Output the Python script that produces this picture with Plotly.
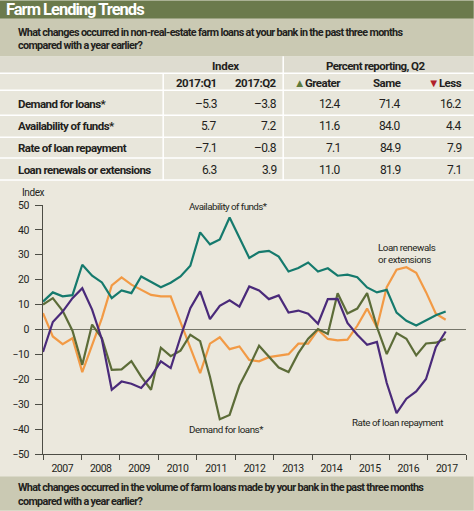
import plotly.graph_objects as go

# ---------------- data ----------------
quarters = [f"{y}:Q{q}" for y in range(2007, 2018) for q in range(1, 5)][:42]
years = list(range(2007, 2018))

availability = [11.2, 14.9, 13.3, 13.8, 26.0, 21.6, 18.9, 12.6, 15.7, 14.6, 21.3, 19.0,
                17.0, 18.8, 21.3, 25.6, 39.0, 34.2, 36.2, 45.0, 36.7, 28.7, 31.1, 31.6,
                29.3, 23.3, 24.7, 26.9, 23.3, 24.6, 21.6, 22.0, 21.0, 16.9, 14.9, 15.9,
                6.8, 3.5, 1.6, 3.5, 5.7, 7.2]
renewals = [6.6, -2.8, -5.9, -3.5, -17.1, -6.5, 4.6, 17.7, 20.9, 18.0, 15.9, 13.9,
            13.3, 13.3, 3.0, -7.3, -17.5, -5.7, -3.1, -7.9, -6.8, -12.2, -12.8, -11.1,
            -10.6, -9.9, -5.7, -5.7, -0.1, -3.8, -4.4, -4.1, 1.5, 8.4, 0.8, 17.0,
            24.0, 25.0, 22.8, 15.0, 6.3, 3.9]
repayment = [-9.0, 3.0, 7.2, 12.6, 16.6, 8.0, -4.0, -24.2, -20.9, -21.8, -23.5, -18.9,
             -12.8, -15.5, -3.0, 8.6, 15.3, 4.2, 9.5, 11.7, 9.2, 17.3, 15.7, 12.2,
             13.7, 6.8, 7.6, 6.3, 2.3, 12.2, 12.3, 2.6, -2.1, -6.1, -5.0, -21.5,
             -33.6, -27.8, -24.9, -19.9, -7.1, -0.8]
demand = [10.0, 12.6, 7.5, -0.5, -14.2, 2.0, -3.5, -16.2, -16.0, -12.7, -18.9, -24.2,
          -7.3, -10.7, -8.5, -2.1, -4.7, -19.0, -36.0, -34.3, -22.5, -14.9, -6.5, -10.8,
          -15.3, -17.1, -9.5, -3.7, 0.2, -1.8, 14.6, 6.4, 8.4, 14.6, 1.0, -9.9,
          -1.4, -3.7, -10.4, -5.6, -5.3, -3.8]

table_rows = ["Demand for loans*", "Availability of funds*", "Rate of loan repayment",
              "Loan renewals or extensions"]
index_q1 = ["–5.3", "5.7", "–7.1", "6.3"]
index_q2 = ["–3.8", "7.2", "–0.8", "3.9"]
pct_greater = ["12.4", "11.6", "7.1", "11.0"]
pct_same = ["71.4", "84.0", "84.9", "81.9"]
pct_less = ["16.2", "4.4", "7.9", "7.1"]

y_ticks = [-50, -40, -30, -20, -10, 0, 10, 20, 30, 40, 50]

# ---------------- styles ----------------
W, H = 474, 511
L, R, T, B = 43.3, 466.3, 205.0, 454.5
X_MAX = 43.07                     # axis length in quarter units
YEAR_W = X_MAX / len(years)       # axis units per year label slot
FONT = "Roboto, Liberation Sans, sans-serif"
BG = "#ebe8dd"
TEAL, ORANGE, PURPLE, GREEN = "#157a6d", "#f29a45", "#4a2a7a", "#5c6c38"
TXT = "#231f20"


def px(x):
    return (x - L) / (R - L)


def py(y):
    return (B - y) / (B - T)


def ls(s, sp):
    return f"<span style='letter-spacing:{sp}px'>{s}</span>"


fig = go.Figure()
x_idx = list(range(len(quarters)))
for vals, col, name in [(renewals, ORANGE, "Loan renewals or extensions"),
                        (demand, GREEN, "Demand for loans*"),
                        (repayment, PURPLE, "Rate of loan repayment"),
                        (availability, TEAL, "Availability of funds*")]:
    fig.add_trace(go.Scatter(x=x_idx, y=vals, mode="lines", name=name,
                             customdata=quarters,
                             line=dict(color=col, width=2.2), hoverinfo="skip"))

shapes = []
annotations = []


def rect(x0, y0, x1, y1, color):
    shapes.append(dict(type="rect", xref="paper", yref="paper",
                       x0=px(x0), x1=px(x1), y0=py(y1), y1=py(y0),
                       fillcolor=color, line=dict(width=0), layer="below"))


def hline(y, x0, x1, color="white", w=1.5):
    shapes.append(dict(type="line", xref="paper", yref="paper", x0=px(x0), x1=px(x1),
                       y0=py(y), y1=py(y), line=dict(color=color, width=w)))


def vline(x, y0, y1, color="white", w=1.5):
    shapes.append(dict(type="line", xref="paper", yref="paper", x0=px(x), x1=px(x),
                       y0=py(y0), y1=py(y1), line=dict(color=color, width=w)))


def text(x, y, s, size=11, bold=False, anchor="left", color=TXT, sp=-0.4):
    s = ls(s, sp)
    if bold:
        s = f"<b>{s}</b>"
    annotations.append(dict(xref="paper", yref="paper", x=px(x), y=py(y), text=s,
                            showarrow=False, xanchor=anchor, yanchor="middle",
                            font=dict(size=size, color=color, family=FONT)))


# title bar
rect(0, 0, W, 18.5, "#6b7a4c")
text(4, 9.5, "Farm Lending Trends", size=16.5, bold=True, color="white", sp=-1.0)
# question band
rect(0, 18.5, W, 56, "#cac9b3")
text(16, 32, "What changes occurred in non-real-estate farm loans at your bank in the past three months",
     size=10.8, bold=True, sp=-0.65)
text(16, 45, "compared with a year earlier?", size=10.8, bold=True, sp=-0.65)
# table
rect(0, 56, W, 73, "#dedcd0")
rect(0, 73, W, 180, "#e8e6db")
for yy in [73, 90, 115, 137, 158, 180]:
    hline(yy, 0, W)
vline(283.5, 56, 180)
vline(163.5, 73, 180)
text(226, 65.5, "Index", size=11.5, bold=True, anchor="center", sp=-0.3)
text(376, 65.5, "Percent reporting, Q2", size=11.5, bold=True, anchor="center", sp=-0.6)
right_edges = [219, 279, 343, 403, 464]
headers = ["2017:Q1", "2017:Q2",
           "<span style='color:#5e7a3c'>▲</span>Greater", "Same",
           "<span style='color:#b0202a'>▼</span>Less"]
for xe, hd in zip(right_edges, headers):
    text(xe, 83, hd, size=11.5, bold=True, anchor="right", sp=-0.5)
row_y = [103.5, 126, 147.5, 169.5]
for i, lab in enumerate(table_rows):
    text(16, row_y[i], lab, size=11.5, bold=True, sp=-0.55)
    for xe, col in zip(right_edges, [index_q1, index_q2, pct_greater, pct_same, pct_less]):
        text(xe, row_y[i], col[i], size=12, anchor="right", sp=-0.7)

# chart labels
text(20, 192.5, "Index", size=10, sp=-0.4)
text(187, 207, "Availability of funds*", size=9.8, sp=-0.55)
text(376, 248, "Loan renewals", size=9.8, sp=-0.45)
text(376, 259.5, "or extensions", size=9.8, sp=-0.45)
text(187, 430, "Demand for loans*", size=9.8, sp=-0.45)
text(350, 423, "Rate of loan repayment", size=9.8, sp=-0.45)

# bottom band
rect(0, 477, W, H, "#cac9b3")
text(16, 488.5, "What changes occurred in the volume of farm loans made by your bank in the past three months",
     size=10.8, bold=True, sp=-0.65)
text(16, 502, "compared with a year earlier?", size=10.8, bold=True, sp=-0.65)

AX = "#4d4d45"
year_mid = [(k + 0.5) * YEAR_W for k in range(len(years))]
year_edges = [k * YEAR_W for k in range(len(years) + 1)]
fig.update_layout(
    width=W, height=H,
    margin=dict(l=L, r=W - R, t=T, b=H - B, pad=0),
    paper_bgcolor=BG, plot_bgcolor=BG,
    showlegend=False,
    shapes=shapes, annotations=annotations,
    xaxis=dict(range=[0, X_MAX], tickmode="array", tickvals=year_mid,
               ticktext=[ls(str(y), -0.5) for y in years], ticks="",
               minor=dict(tickmode="array", tickvals=year_edges, ticks="outside",
                          ticklen=5, tickcolor=AX, tickwidth=1, showgrid=False),
               showline=True, linecolor=AX, linewidth=1,
               showgrid=False, zeroline=False, ticklabelstandoff=4,
               tickfont=dict(family=FONT, size=10.5, color=TXT)),
    yaxis=dict(range=[-50, 50], tickmode="array", tickvals=y_ticks,
               ticktext=[ls(str(v).replace("-", "−"), -0.5) for v in y_ticks],
               ticks="outside", ticklen=7,
               tickcolor=AX, tickwidth=1, showline=True, linecolor=AX, linewidth=1,
               showgrid=False, zeroline=True, zerolinecolor="#76766a", zerolinewidth=1,
               tickfont=dict(family=FONT, size=10.5, color=TXT), ticklabelstandoff=4),
)

fig.write_html("out.html", config={"displayModeBar": False},
               post_script="document.body.style.margin='0';document.body.style.padding='0';"
                           "document.body.style.overflow='hidden';")
